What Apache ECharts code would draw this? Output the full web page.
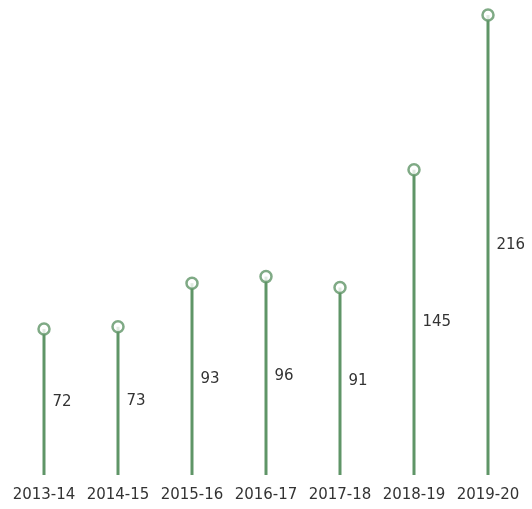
<!DOCTYPE html>
<html>
<head>
<meta charset="utf-8">
<script src="https://cdn.jsdelivr.net/npm/echarts@6/dist/echarts.min.js"></script>
<style>
    html, body { margin: 0; padding: 0; background: #fff; }
    #main { width: 532px; height: 509px; }
</style>
</head>
<body>
<div id="main"></div>
<script>
// 数据
var years = ['2013-14', '2014-15', '2015-16', '2016-17', '2017-18', '2018-19', '2019-20'];
var values = [72, 73, 93, 96, 91, 145, 216];

var green = '#5f9567';
var myChart = echarts.init(document.getElementById('main'));

var option = {
    animation: false,
    grid: {
        left: 7,
        right: 7,
        top: 15,
        bottom: 34
    },
    xAxis: {
        type: 'category',
        data: years,
        axisLine: { show: false },
        axisTick: { show: false },
        axisLabel: {
            interval: 0,
            color: '#333',
            fontSize: 15,
            fontFamily: 'DejaVu Sans',
            margin: 13
        }
    },
    yAxis: {
        type: 'value',
        min: 5,
        max: 216,
        show: false,
        splitLine: { show: false }
    },
    series: [{
        // 竖线
        type: 'bar',
        data: values,
        barWidth: 3,
        itemStyle: { color: green },
        label: {
            show: true,
            position: 'right',
            distance: 7,
            color: '#333',
            fontSize: 15,
            fontFamily: 'DejaVu Sans'
        }
    }, {
        // 顶部空心圆
        type: 'scatter',
        data: values,
        symbol: 'circle',
        symbolSize: 11,
        itemStyle: {
            color: '#fff',
            borderColor: green,
            borderWidth: 2.5
        },
        z: 3
    }]
};
myChart.setOption(option);
</script>
</body>
</html>
